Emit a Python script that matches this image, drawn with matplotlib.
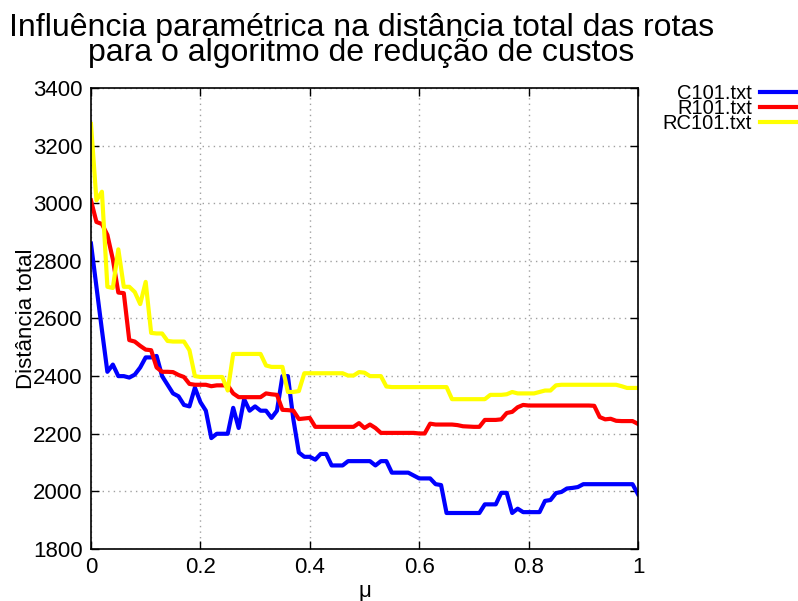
import numpy as np
import matplotlib
matplotlib.use("Agg")
import matplotlib.pyplot as plt

plt.rcParams['font.family'] = ['Liberation Sans', 'DejaVu Sans']

# mu from 0 to 1, step 0.01
mu = np.linspace(0, 1, 101)

# total distance
c101 = [2860, 2710, 2560, 2415, 2440, 2400, 2400, 2395, 2405, 2430,
        2465, 2465, 2470, 2400, 2370, 2340, 2330, 2300, 2295, 2360,
        2310, 2280, 2185, 2200, 2200, 2200, 2290, 2220, 2320, 2280,
        2295, 2280, 2280, 2255, 2280, 2400, 2400, 2250, 2135, 2120,
        2120, 2110, 2130, 2130, 2090, 2090, 2090, 2105, 2105, 2105,
        2105, 2105, 2090, 2105, 2105, 2065, 2065, 2065, 2065, 2055,
        2045, 2045, 2045, 2025, 2022, 1925, 1925, 1925, 1925, 1925,
        1925, 1925, 1955, 1955, 1955, 1995, 1995, 1925, 1940, 1928,
        1928, 1928, 1928, 1967, 1970, 1994, 1998, 2010, 2012, 2015,
        2025, 2025, 2025, 2025, 2025, 2025, 2025, 2025, 2025, 2025,
        1990]

r101 = [3010, 2935, 2928, 2890, 2805, 2690, 2688, 2525, 2520, 2505,
        2492, 2490, 2430, 2415, 2415, 2414, 2404, 2397, 2373, 2370,
        2370, 2370, 2365, 2368, 2368, 2368, 2340, 2327, 2327, 2327,
        2327, 2327, 2340, 2337, 2335, 2283, 2282, 2280, 2251, 2253,
        2255, 2224, 2224, 2224, 2224, 2224, 2224, 2224, 2224, 2237,
        2220, 2232, 2220, 2203, 2203, 2203, 2203, 2203, 2203, 2203,
        2201, 2201, 2235, 2232, 2232, 2232, 2232, 2230, 2226, 2225,
        2224, 2224, 2248, 2248, 2248, 2250, 2272, 2276, 2292, 2300,
        2298, 2298, 2298, 2298, 2298, 2298, 2298, 2298, 2298, 2298,
        2298, 2298, 2297, 2258, 2250, 2252, 2245, 2244, 2244, 2244,
        2234]

rc101 = [3275, 3010, 3040, 2710, 2706, 2840, 2710, 2710, 2692, 2650,
         2727, 2550, 2548, 2548, 2522, 2520, 2520, 2520, 2490, 2400,
         2397, 2397, 2397, 2397, 2397, 2350, 2477, 2477, 2477, 2477,
         2477, 2477, 2437, 2432, 2432, 2432, 2345, 2345, 2348, 2410,
         2410, 2410, 2410, 2410, 2410, 2410, 2410, 2402, 2402, 2414,
         2412, 2400, 2400, 2400, 2364, 2362, 2362, 2362, 2362, 2362,
         2362, 2362, 2362, 2362, 2362, 2362, 2320, 2320, 2320, 2320,
         2320, 2320, 2320, 2335, 2335, 2335, 2337, 2345, 2340, 2340,
         2340, 2340, 2345, 2350, 2350, 2368, 2370, 2370, 2370, 2370,
         2370, 2370, 2370, 2370, 2370, 2370, 2370, 2365, 2359, 2359,
         2359]

names = ['C101.txt', 'R101.txt', 'RC101.txt']
colours = ['#0000ff', '#ff0000', '#ffff00']

fig = plt.figure(figsize=(7.98, 6.01), dpi=100)
ax = fig.add_axes([0.114, 0.0865, 0.6855, 0.7671])

for vals, c, n in zip([c101, r101, rc101], colours, names):
    ax.plot(mu, vals, color=c, lw=3, label=n)

ax.set_xlim(0, 1)
ax.set_ylim(1800, 3400)
ax.set_xticks([0, 0.2, 0.4, 0.6, 0.8, 1])
ax.set_xticklabels(['0', '0.2', '0.4', '0.6', '0.8', '1'])
ax.set_yticks(np.arange(1800, 3401, 200))
ax.tick_params(direction='in', length=6, width=1, labelsize=16,
               top=True, right=True, pad=6)
ax.grid(True, color='#a0a0a0', linestyle=(0, (1, 3)), lw=1)
for s in ax.spines.values():
    s.set_linewidth(1.2)

ax.set_xlabel('\u03bc', fontsize=16, labelpad=2)
ax.set_ylabel('Distância total', fontsize=16, labelpad=-3)
fig.text(0.453, 0.933,
         'Influência paramétrica na distância total das rotas\n'
         'para o algoritmo de redução de custos',
         ha='center', va='center', fontsize=23, linespacing=0.76)

ax.legend(loc='upper right', bbox_to_anchor=(0.999, 0.86),
          bbox_transform=fig.transFigure, frameon=False, markerfirst=False,
          fontsize=14.5, labelspacing=-0.19, handlelength=1.85,
          handletextpad=0.4, borderaxespad=0, borderpad=0)

plt.savefig('out.png', dpi=100)
